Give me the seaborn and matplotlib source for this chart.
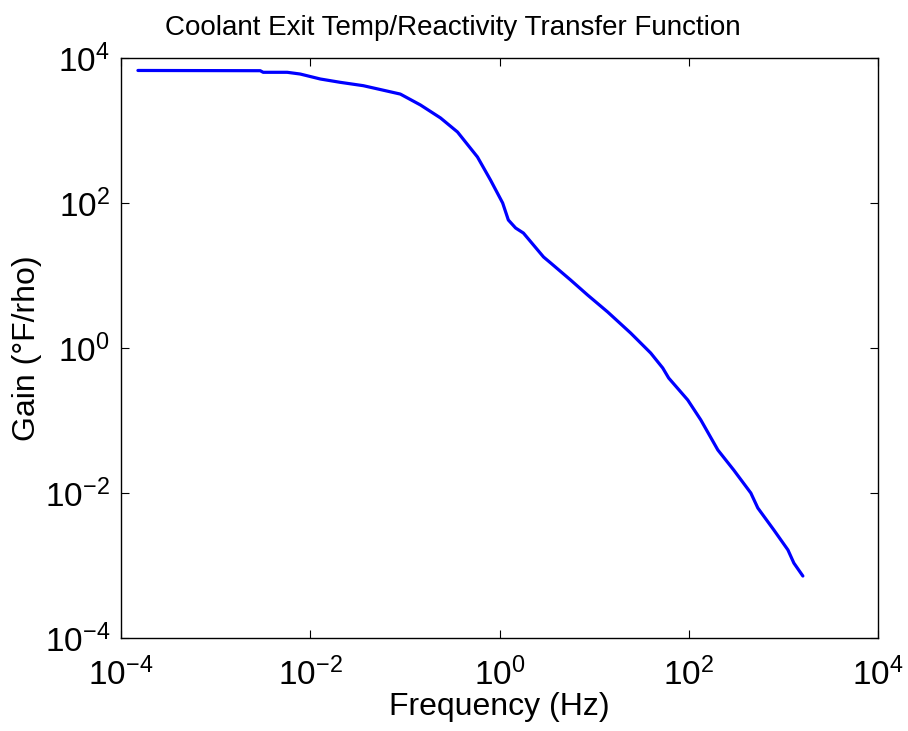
import numpy as np
import pandas as pd
import matplotlib
matplotlib.use("Agg")
import matplotlib.pyplot as plt
import seaborn as sns
from matplotlib.ticker import LogLocator, NullLocator, LogFormatterSciNotation

freq_hz = [1.51e-4, 2.96e-3, 3.18e-3, 5.71e-3, 7.83e-3, 1.28e-2, 2.07e-2, 3.64e-2,
           8.95e-2, 0.146, 0.238, 0.360, 0.585, 0.804, 1.08, 1.24, 1.48, 1.79,
           2.92, 3.47, 5.64, 8.53, 13.9, 24.3, 39.6, 53.1, 61.4, 97.5, 134, 203,
           299, 453, 537, 793, 1117, 1291, 1607]
gain = [6730, 6680, 6350, 6350, 6010, 5130, 4620, 4150,
        3180, 2250, 1490, 953, 431, 207, 100, 58.3, 45.2, 38.5,
        18.0, 14.9, 8.67, 5.38, 3.14, 1.61, 0.853, 0.530, 0.385, 0.192, 0.102, 0.0392,
        0.0207, 0.0100, 0.00621, 0.00309, 0.00164, 0.00108, 0.000716]

title = "Coolant Exit Temp/Reactivity Transfer Function"
xlabel = "Frequency (Hz)"
ylabel = "Gain (°F/rho)"

sns.set_theme(style="white")
plt.rcParams['font.family'] = ['Liberation Sans', 'DejaVu Sans']
plt.rcParams['mathtext.default'] = 'regular'
plt.rcParams['axes.unicode_minus'] = False

df = pd.DataFrame({"freq": freq_hz, "gain": gain})

fig = plt.figure(figsize=(9.08, 7.31), dpi=100)
ax = fig.add_axes([121/908, 1 - 638/731, (878 - 121)/908, (638 - 58)/731])

sns.lineplot(data=df, x="freq", y="gain", ax=ax, color="#0000ff", linewidth=2.3,
             estimator=None, sort=False)

ax.set_xscale("log")
ax.set_yscale("log")
ax.set_xlim(1e-4, 1e4)
ax.set_ylim(1e-4, 1e4)

ax.xaxis.set_major_locator(LogLocator(base=100.0))
ax.yaxis.set_major_locator(LogLocator(base=100.0))
ax.xaxis.set_minor_locator(NullLocator())
ax.yaxis.set_minor_locator(NullLocator())
ax.xaxis.set_major_formatter(LogFormatterSciNotation(base=10))
ax.yaxis.set_major_formatter(LogFormatterSciNotation(base=10))

ax.tick_params(axis="both", which="major", direction="in", length=5.8, width=0.8,
               top=True, right=True, bottom=True, left=True,
               labelsize=24, colors="black")
ax.tick_params(axis="x", pad=14)
ax.tick_params(axis="y", pad=8)

for s in ax.spines.values():
    s.set_visible(True)
    s.set_color("black")
    s.set_linewidth(1.0)

ax.set_xlabel(xlabel, fontsize=23, color="black", labelpad=0)
ax.set_ylabel(ylabel, fontsize=23, color="black", labelpad=2)
fig.text(453/908, 1 - 28/731, title, fontsize=20, ha="center", va="center", color="black")

fig.savefig("out.png", dpi=100, facecolor="white")
